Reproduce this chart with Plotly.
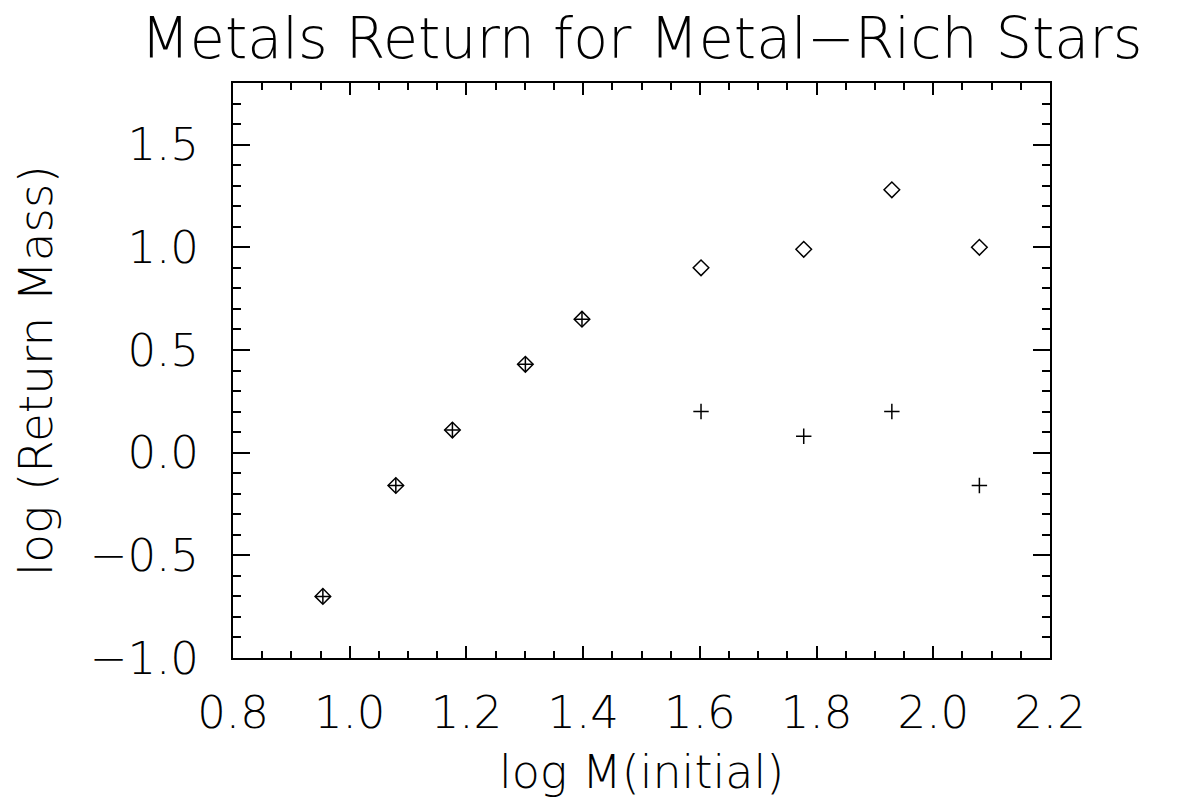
import plotly.graph_objects as go

log_mass = [0.954, 1.079, 1.176, 1.301, 1.398, 1.602, 1.778, 1.929, 2.079]
diamond_y = [-0.70, -0.16, 0.11, 0.43, 0.65, 0.90, 0.99, 1.28, 1.00]
plus_y = [-0.70, -0.16, 0.11, 0.43, 0.65, 0.20, 0.08, 0.20, -0.16]

x_ticks = [0.8, 1.0, 1.2, 1.4, 1.6, 1.8, 2.0, 2.2]
y_ticks = [-1.0, -0.5, 0.0, 0.5, 1.0, 1.5]

FONT = "DejaVu Sans"
W = 200

fig = go.Figure()
fig.add_trace(go.Scatter(
    x=log_mass, y=diamond_y, mode="markers",
    marker=dict(symbol="diamond-open", size=12, color="black",
                line=dict(width=1.5, color="black")),
    showlegend=False))
fig.add_trace(go.Scatter(
    x=log_mass, y=plus_y, mode="markers",
    marker=dict(symbol="cross-thin-open", size=11, color="black",
                line=dict(width=1.5, color="black")),
    showlegend=False))

axis_common = dict(
    showline=True, linecolor="black", linewidth=2, mirror="ticks",
    ticks="inside", tickcolor="black", tickwidth=2,
    showgrid=False, zeroline=False,
    tickfont=dict(family=FONT, size=45, color="black", weight=W),
)

fig.update_layout(
    width=1194, height=797,
    margin=dict(l=225, r=152, t=75, b=147, autoexpand=False),
    paper_bgcolor="white", plot_bgcolor="white",
    title=dict(text="Metals Return for Metal\u2212Rich Stars",
               font=dict(family=FONT, size=57, color="black", weight=W),
               xref="paper", x=0.5, xanchor="center",
               yref="container", y=1 - 30 / 797, yanchor="middle"),
    xaxis=dict(axis_common, range=[0.8, 2.2], tickvals=x_ticks,
               ticktext=[f"{v:.1f}" for v in x_ticks], ticklen=12,
               minor=dict(dtick=0.05, ticklen=7, ticks="inside", tickcolor="black", tickwidth=2),
               ticklabelstandoff=14,
               title=dict(text="log M(initial)", standoff=18,
                          font=dict(family=FONT, size=46, color="black", weight=W))),
    yaxis=dict(axis_common, range=[-1.0, 1.8], tickvals=y_ticks,
               ticktext=[f"{v:.1f}".replace("-", "\u2212") for v in y_ticks], ticklen=17,
               minor=dict(dtick=0.1, ticklen=8, ticks="inside", tickcolor="black", tickwidth=2),
               ticklabelstandoff=23,
               title=dict(text="log (Return Mass)", standoff=25,
                          font=dict(family=FONT, size=47, color="black", weight=W))),
)

fig.write_html("out.html")
